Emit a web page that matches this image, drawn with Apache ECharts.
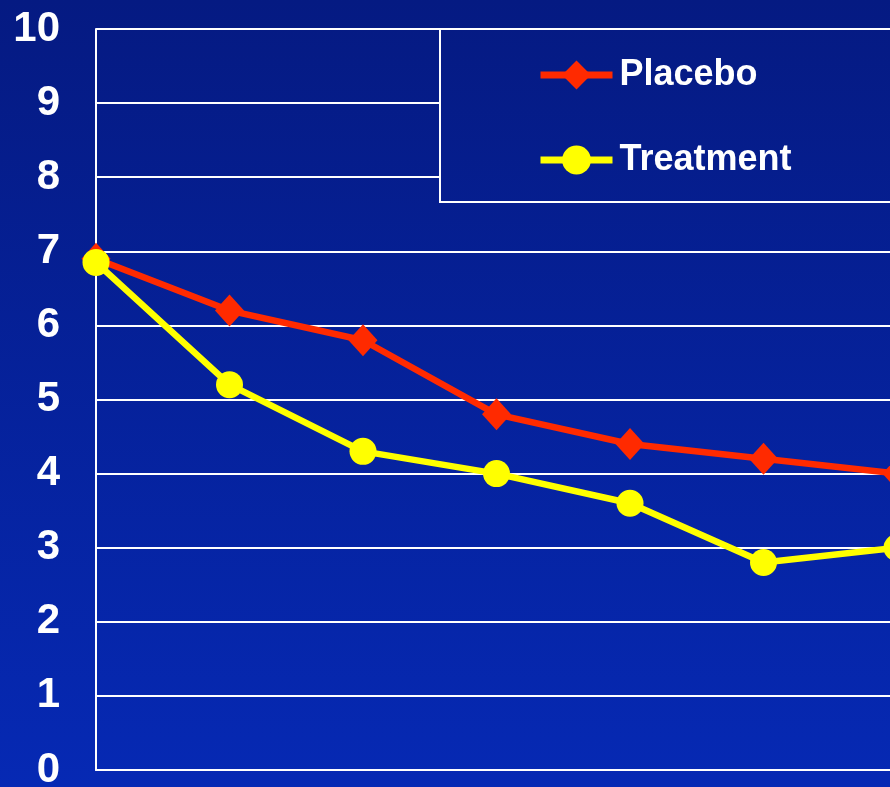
<!DOCTYPE html>
<html>
<head>
<meta charset="utf-8">
<script src="https://cdn.jsdelivr.net/npm/echarts@6/dist/echarts.min.js"></script>
<style>
  html, body { margin: 0; padding: 0; }
  #chart {
    width: 890px; height: 787px;
    background: linear-gradient(to bottom, #051a82 0%, #0629b4 100%);
  }
</style>
</head>
<body>
<div id="chart"></div>
<script>
// Visit points along the x axis (no labels shown)
const visits = ['V1', 'V2', 'V3', 'V4', 'V5', 'V6', 'V7'];
const placebo = [6.9, 6.2, 5.8, 4.8, 4.4, 4.2, 4.0];
const treatment = [6.85, 5.2, 4.3, 4.0, 3.6, 2.8, 3.0];
const yTicks = [0, 1, 2, 3, 4, 5, 6, 7, 8, 9, 10];

const chart = echarts.init(document.getElementById('chart'), null, { renderer: 'canvas' });

const bgGradient = new echarts.graphic.LinearGradient(0, 0, 0, 787, [
  { offset: 0, color: '#051a82' },
  { offset: 1, color: '#0629b4' }
], true);

chart.setOption({
  backgroundColor: 'transparent',
  animation: false,
  grid: {
    left: 96, right: -7, top: 29, bottom: 17,
    containLabel: false,
    outerBoundsMode: 'none'
  },
  xAxis: {
    type: 'category',
    data: visits,
    boundaryGap: false,
    axisLine: { show: true, lineStyle: { color: '#ffffff', width: 2 } },
    axisTick: { show: false },
    axisLabel: { show: false },
    splitLine: { show: false }
  },
  yAxis: {
    type: 'value',
    min: yTicks[0],
    max: yTicks[yTicks.length - 1],
    interval: 1,
    axisLine: { show: true, lineStyle: { color: '#ffffff', width: 2 } },
    axisTick: { show: false },
    axisLabel: {
      color: '#ffffff',
      fontSize: 42,
      fontWeight: 'bold',
      fontFamily: 'Liberation Sans, Arial, sans-serif',
      margin: 36
    },
    splitLine: { show: true, lineStyle: { color: '#ffffff', width: 2 } }
  },
  graphic: [{
    type: 'rect',
    z: 10,
    shape: { x: 440, y: 29, width: 470, height: 173 },
    style: { fill: bgGradient, stroke: '#ffffff', lineWidth: 2 }
  }],
  legend: {
    z: 20,
    orient: 'vertical',
    left: 532,
    top: 52,
    itemWidth: 72,
    itemHeight: 36,
    itemGap: 49,
    lineStyle: { width: 7 },
    textStyle: {
      color: '#ffffff',
      fontSize: 36,
      fontWeight: 'bold',
      fontFamily: 'Liberation Sans, Arial, sans-serif',
      padding: [0, 0, 0, 2]
    },
    data: ['Placebo', 'Treatment']
  },
  series: [
    {
      name: 'Placebo',
      type: 'line',
      data: placebo,
      symbol: 'diamond',
      symbolSize: [29, 32],
      lineStyle: { color: '#ff2a00', width: 6.5 },
      itemStyle: { color: '#ff2a00' },
      z: 3
    },
    {
      name: 'Treatment',
      type: 'line',
      data: treatment,
      symbol: 'circle',
      symbolSize: 27,
      lineStyle: { color: '#ffff00', width: 6.5 },
      itemStyle: { color: '#ffff00' },
      z: 4
    }
  ]
});
</script>
</body>
</html>
